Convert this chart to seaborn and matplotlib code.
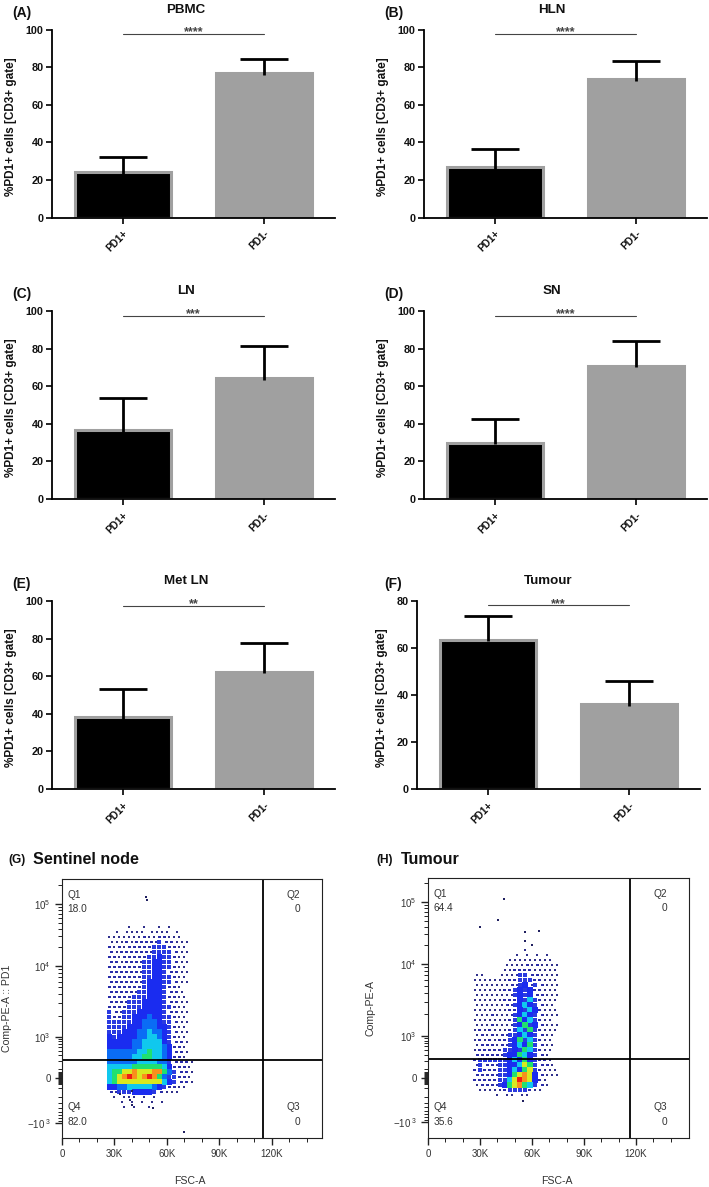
# Bar panels A-F plus two flow cytometry density panels G-H
import numpy as np
import pandas as pd
import matplotlib
matplotlib.use('Agg')
import matplotlib.pyplot as plt
import seaborn as sns

W, H = 709, 1187

cats = ['PD1+', 'PD1-']
bar_titles = ['PBMC', 'HLN', 'LN', 'SN', 'Met LN', 'Tumour']
bar_tags = ['(A)', '(B)', '(C)', '(D)', '(E)', '(F)']
bar_means = [[24, 77], [27, 73.5], [36.5, 64.5], [30, 71], [38.5, 62.5], [63.5, 36.1]]
bar_tops = [[32, 84.4], [36.5, 83], [53.5, 81.5], [42.5, 84], [53, 77.5], [73.6, 45.9]]
bar_stars = ['****', '****', '***', '****', '**', '***']
bar_line_y = [97.6, 97.6, 97.6, 97.6, 97.6, 78]
bar_ymax = [100, 100, 100, 100, 100, 80]
bar_yticks = [[0, 20, 40, 60, 80, 100]] * 5 + [[0, 20, 40, 60, 80]]
bar_boxes = [(52, 335, 29.5, 217.5), (424, 707, 29.5, 217.5),
             (52, 335, 311, 499), (424, 707, 311, 499),
             (52, 335, 601, 789), (417, 700, 600.7, 789)]
title_x = [186, 552, 186, 552, 186, 548]

# density levels, one string per row, top row first
g_rows = [
    '00001001001010000', '01011110111101000', '11111112112211100',
    '11121222223221110', '21212222233322110', '21222222233332110',
    '22122222334332110', '22122223344332110', '22222223344332110',
    '22222223344322110', '22222223344332110', '22222223444332110',
    '22222223444322100', '22222233444322100', '22222333444322110',
    '22223334444322110', '22223334444332110', '32233344444322110',
    '32233444544332110', '33333445554332110', '33334445554432110',
    '33344455655432110', '43444455665432110', '44444556666432210',
    '44444556666542210', '55555566766542210', '55555667766542210',
    '55555566665532221', '66666777777642221', '67788988899753221',
    '6789a989a97533221', '67888888888643221', '44556666654322110',
    '22333444432111000', '01011101010000000', '00101010101000000',
    '00010100100000000',
]
h_rows = [
    '000000000010000000', '000000001010101000', '000000011111111100',
    '000000111121211110', '000000112222111110', '110001112332211110',
    '111111122333221110', '111111122342321110', '111111223434221110',
    '111111123434221110', '111111222436321110', '111111223464321100',
    '111111122436421110', '111211123464321110', '111111123746321100',
    '111211123473421110', '121211123637321110', '121212233464321100',
    '121212234736321100', '122212234647321100', '122222334376321100',
    '222222344764321000', '233333346474322100', '232223344687322100',
    '232223346478321110', '222223347898421110', '222223368a98421000',
    '122223478976321000', '011111233332110000', '000010110110000000',
]
g_outliers_fsc = [48.2, 48.8, 39, 40, 70, 40, 33, 52]
g_outliers_ch = [241, 238, 38, 33, 6, 47, 44, 30]
h_outliers_fsc = [44, 40.5, 30, 56, 64, 56, 60, 55]
h_outliers_ch = [239, 218, 211, 206, 207, 197, 193, 37]

level_colors = {'1': '#30308c', '2': '#2a2ca8', '3': '#2a3ae0', '4': '#1a2cf0',
                '5': '#0a6cf5', '6': '#10c8ee', '7': '#20e070', '8': '#d8e820',
                '9': '#f8901c', 'a': '#ee1a14'}
level_sizes = {'1': 2.2, '2': 4.5, '3': 9, '4': 15, '5': 15, '6': 15, '7': 15, '8': 15, '9': 15, 'a': 15}

flow_quads = [['Q1', '18.0', 'Q2', '0', 'Q4', '82.0', 'Q3', '0'],
              ['Q1', '64.4', 'Q2', '0', 'Q4', '35.6', 'Q3', '0']]
fsc_ticks = [0, 30, 60, 90, 120]
fsc_labels = ['0', '30K', '60K', '90K', '120K']
fsc_minor = [10, 20, 40, 50, 70, 80, 100, 110, 130, 140]

sns.set_theme(style='ticks')
plt.rcParams['font.family'] = ['Liberation Sans', 'DejaVu Sans']
plt.rcParams['mathtext.default'] = 'regular'

fig = plt.figure(figsize=(W / 100, H / 100), dpi=100, facecolor='white')


def px_axes(left, right, top, bottom):
    return fig.add_axes([left / W, 1 - bottom / H, (right - left) / W, (bottom - top) / H])


def px_text(x, y, s, **kw):
    fig.text(x / W, 1 - y / H, s, va='center', **kw)


# bar panels
for i, box in enumerate(bar_boxes):
    ax = px_axes(*box)
    sns.barplot(x=cats, y=bar_means[i], hue=cats, palette=['black', '#a0a0a0'], legend=False,
                width=0.675, edgecolor='#a0a0a0', linewidth=2.2, ax=ax)
    for j in range(2):
        lo = bar_means[i][j] - bar_ymax[i] / 100
        up = bar_tops[i][j] - bar_means[i][j]
        caps = ax.errorbar(j, bar_means[i][j], yerr=[[bar_means[i][j] - lo], [up]], color='black',
                           elinewidth=2, capsize=17, capthick=2, zorder=5)[1]
        caps[0].set_visible(False)
    ax.plot([0, 1], [bar_line_y[i]] * 2, color='#444444', lw=0.8, clip_on=False)
    ax.text(0.5, bar_line_y[i] - bar_ymax[i] * 0.024, bar_stars[i], ha='center', va='bottom',
            fontsize=9, fontweight='bold', color='#444444', clip_on=False)
    ax.set_xlim(-0.503, 1.503)
    ax.set_ylim(0, bar_ymax[i])
    ax.set_yticks(bar_yticks[i])
    ax.tick_params(axis='y', length=4, width=1.2, color='black', labelsize=7.8, pad=2)
    ax.tick_params(axis='x', length=4, width=1.2, color='black', labelsize=7.3, pad=4)
    plt.setp(ax.get_yticklabels(), fontweight='bold', color='#111111')
    plt.setp(ax.get_xticklabels(), fontweight='bold', color='#111111', rotation=45,
             ha='right', rotation_mode='anchor')
    for side in ['top', 'right']:
        ax.spines[side].set_visible(False)
    for side in ['left', 'bottom']:
        ax.spines[side].set_linewidth(1.3)
        ax.spines[side].set_color('black')
    ax.set_ylabel('%PD1+ cells [CD3+ gate]', fontsize=8.5, fontweight='bold', color='#111111',
                  labelpad=6, y=0.485)
    ax.set_xlabel('')
    px_text(title_x[i], box[2] - 19.5, bar_titles[i], ha='center',
            fontsize=9.6, fontweight='bold', color='#111111')
    px_text(box[0] - 40 + (7 if i == 5 else 0), box[2] - 17, bar_tags[i], ha='left',
            fontsize=10, fontweight='bold', color='#111111')


def flow_panel(box, rows, x_start, quads, out_fsc, out_ch, ch_anchor, gate_x, gate_y, tag, tag_x, title, head_x, ylabel, ylabel_x):
    ax = px_axes(*box)
    px_per_k = (box[1] - box[0]) / XMAX[tag]
    recs = []
    for r, row in enumerate(rows):
        for c, lev in enumerate(row):
            if lev != '0':
                # sparse cells sit half a cell over on odd rows so they read as dots, not a lattice
                shift = 2.5 if (r % 2 and lev in '12') else 0
                recs.append((x_start + (c * 5 + shift) / px_per_k, ch_anchor['start'] - r * 5, lev))
    cells = pd.DataFrame(recs, columns=['fsc', 'channel', 'level'])
    sns.scatterplot(data=cells, x='fsc', y='channel', hue='level', palette=level_colors,
                    size='level', sizes=level_sizes, marker='s', linewidth=0, legend=False, ax=ax)
    sns.scatterplot(x=out_fsc, y=out_ch, color='#202060', marker='s', s=1.5, linewidth=0, ax=ax)
    ax.axvline(gate_x, color='black', lw=1.3)
    ax.axhline(gate_y, color='black', lw=1.3)
    ax.set_xlim(0, XMAX[tag])
    ax.set_ylim(0, box[3] - box[2])
    ax.set_xticks(fsc_ticks, fsc_labels)
    ax.set_xticks(fsc_minor, minor=True)
    majors = ch_anchor['major']
    ax.set_yticks(majors, [r'$-10^{\ 3}$', '0', r'$10^3$', r'$10^4$', r'$10^5$'])
    # minor ticks on the log part and around zero
    dec = np.array([2, 3, 4, 5, 6, 7, 8, 9])
    lg = np.log10(np.concatenate([dec * 1e3, dec * 1e4, [2e5]]))
    up = np.interp(lg, [3, 4, 5, 5.4], [majors[2], majors[3], majors[4], majors[4] + 25])
    near = np.log10(dec * 100)
    near_up = np.interp(near, [2.3, 3], [majors[1] + 9, majors[2]])
    near_down = np.interp(near, [2.3, 3], [majors[1] - 10, majors[0]])
    zero = majors[1] + np.array([-6, -5, -4, -3, -2, -1, 0, 1, 2, 3, 4, 5, 6])
    ax.set_yticks(np.concatenate([up, near_up, near_down, zero]), minor=True)
    ax.tick_params(axis='both', which='major', length=5, width=1, color='#222222', labelsize=7,
                   labelcolor='#333333', pad=3)
    ax.tick_params(axis='both', which='minor', length=3, width=0.7, color='#222222')
    ax.set_xlabel('')
    ax.set_ylabel('')
    for s in ax.spines.values():
        s.set_linewidth(0.8)
        s.set_color('#222222')
    for k, (qx, ha) in enumerate([(0.02, 'left'), (0.915, 'right')]):
        ax.text(qx, 0.94, quads[2 * k], transform=ax.transAxes, fontsize=7.3, color='#333333', ha=ha, va='center')
        ax.text(qx, 0.883, quads[2 * k + 1], transform=ax.transAxes, fontsize=7.3, color='#333333', ha=ha, va='center')
        ax.text(qx, 0.12, quads[2 * k + 4], transform=ax.transAxes, fontsize=7.3, color='#333333', ha=ha, va='center')
        ax.text(qx, 0.063, quads[2 * k + 5], transform=ax.transAxes, fontsize=7.3, color='#333333', ha=ha, va='center')
    px_text((box[0] + box[1]) / 2 - 2, 1181, 'FSC-A', ha='center', fontsize=7.6, color='#333333')
    px_text(ylabel_x, 1008, ylabel, ha='center', rotation=90, fontsize=7.6, color='#333333')
    px_text(tag_x, 860, tag, ha='left', fontsize=8.6, fontweight='bold', color='#111111')
    px_text(head_x, 859, title, ha='left', fontsize=11.6, fontweight='bold', color='#111111')


XMAX = {'(G)': 148.6, '(H)': 150.5}
flow_panel((62, 322, 879, 1138), g_rows, 27, flow_quads[0], g_outliers_fsc, g_outliers_ch,
           {'start': 211, 'major': [15, 60, 101, 172, 234]}, 115, 78,
           '(G)', 8, 'Sentinel node', 33, 'Comp-PE-A :: PD1', 7)
flow_panel((428, 689, 878, 1138), h_rows, 27, flow_quads[1], h_outliers_fsc, h_outliers_ch,
           {'start': 188, 'major': [16, 60, 102, 174, 236]}, 116.5, 79,
           '(H)', 376, 'Tumour', 401, 'Comp-PE-A', 371)

fig.savefig('out.png', dpi=100)
